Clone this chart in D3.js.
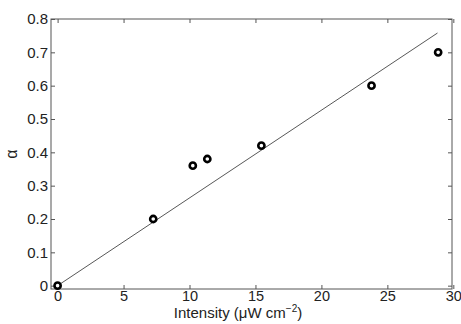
<!DOCTYPE html>
<html><head><meta charset="utf-8">
<script src="https://cdn.jsdelivr.net/npm/d3@7"></script>
<style>body{margin:0;background:#fff}svg{display:block}text{font-family:"Liberation Sans",Arial,sans-serif}</style>
</head><body><svg id="c" width="461" height="324"></svg>
<script>
const intensity = [0, 7.25, 10.25, 11.35, 15.45, 23.8, 28.85];
const alpha = [0, 0.2, 0.36, 0.38, 0.42, 0.6, 0.7];
const fitX = [0, 28.8];
const fitY = [0, 0.758];
const xTicks = [0, 5, 10, 15, 20, 25, 30];
const yTicks = [0, 0.1, 0.2, 0.3, 0.4, 0.5, 0.6, 0.7, 0.8];

const svg = d3.select("#c");
const L = 51, R = 452, T = 19, B = 289;
const x = d3.scaleLinear().domain([-0.5, 29.9]).range([L, R]);
const y = d3.scaleLinear().domain([-0.01, 0.8]).range([B, T]);
const axisColor = "#555";

function styleAxis(fs){
  return g => {
    g.select(".domain").remove();
    g.selectAll("line").attr("stroke", axisColor);
    g.selectAll("text").attr("fill", "#222").style("font-size", fs + "px").style("font-family", '"Liberation Sans",Arial,sans-serif');
  };
}
svg.append("g").attr("transform", `translate(0,${B})`)
  .call(d3.axisBottom(x).tickValues(xTicks).tickFormat(d3.format("d")).tickSizeInner(-4).tickPadding(2))
  .call(styleAxis(14.5));
svg.append("g").attr("transform", `translate(0,${T})`)
  .call(d3.axisTop(x).tickValues(xTicks).tickFormat("").tickSizeInner(-4))
  .call(styleAxis(15));
svg.append("g").attr("transform", `translate(${L},0)`)
  .call(d3.axisLeft(y).tickValues(yTicks).tickFormat(d => d === 0 ? "0" : d3.format(".1f")(d)).tickSizeInner(-4).tickPadding(3))
  .call(styleAxis(15));
svg.append("g").attr("transform", `translate(${R},0)`)
  .call(d3.axisRight(y).tickValues(yTicks).tickFormat("").tickSizeInner(-4))
  .call(styleAxis(15));

svg.append("rect").attr("x", L).attr("y", T).attr("width", R - L).attr("height", B - T)
  .attr("fill", "none").attr("stroke", axisColor).attr("stroke-width", 1);

svg.append("line")
  .attr("x1", x(fitX[0])).attr("y1", y(fitY[0]))
  .attr("x2", x(fitX[1])).attr("y2", y(fitY[1]))
  .attr("stroke", "#444").attr("stroke-width", 0.9);

svg.selectAll("circle.pt").data(intensity).enter().append("circle")
  .attr("class", "pt")
  .attr("cx", d => x(d)).attr("cy", (d, i) => y(alpha[i]))
  .attr("r", 3.1).attr("fill", "#fff").attr("stroke", "#000").attr("stroke-width", 2.6);

svg.append("text").attr("x", 238).attr("y", 317.5).attr("text-anchor", "middle")
  .style("font-size", "15px").attr("fill", "#222")
  .html('Intensity (μW cm<tspan dy="-6" style="font-size:10px">−2</tspan><tspan dy="6">)</tspan>');

svg.append("text").attr("transform", "translate(17,154) rotate(-90)").attr("text-anchor", "middle")
  .style("font-size", "16px").attr("fill", "#222").text("α");
</script></body></html>
